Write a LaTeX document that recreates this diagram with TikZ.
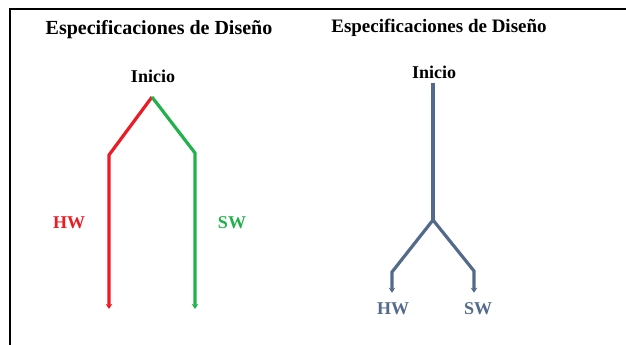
\documentclass[tikz,border=0pt]{standalone}
\usepackage{fontspec}
\setmainfont{Liberation Serif}
\usepackage{xcolor}
\usetikzlibrary{arrows.meta,positioning,calc}
\definecolor{hwred}{RGB}{237,28,36}
\definecolor{swgreen}{RGB}{34,177,76}
\definecolor{flowblue}{RGB}{84,106,139}
\begin{document}
\begin{tikzpicture}[x=1pt,y=-1pt,
    title/.style={font=\bfseries\fontsize{19}{22}\selectfont, inner sep=0pt},
    lbl/.style={font=\bfseries\fontsize{18}{21}\selectfont, inner sep=0pt},
    branch/.style={line width=3.2pt, line join=miter, -{Stealth[length=5pt,width=6.5pt]}}]
    \useasboundingbox (0,0) rectangle (626,345);

    % Frame
    \draw[line width=1.5pt] (10,345) -- (10,9) -- (626,9);

    % Left: separate paths
    \node[title, font=\bfseries\fontsize{20}{23}\selectfont] (titleL) at (159,30) {Especificaciones de Diseño};
    \node[lbl] (inicioL) at (153,76) {Inicio};
    \coordinate (apexL) at (152,97);
    \coordinate (hwbendL) at (109,155);
    \coordinate (hwendL) at (109,309);
    \coordinate (swbendL) at (195,153);
    \coordinate (swendL) at (195,309);
    \draw[branch, hwred] (apexL) -- (hwbendL) -- (hwendL);
    \draw[branch, swgreen] (apexL) -- (swbendL) -- (swendL);
    \node[lbl, text=hwred] (hwL) at (69,223) {HW};
    \node[lbl, text=swgreen] (swL) at (232,223) {SW};

    % Right: common trunk
    \node[title] (titleR) at (439,28) {Especificaciones de Diseño};
    \node[lbl] (inicioR) at (434,72) {Inicio};
    \coordinate (forkR) at (433,220);
    \coordinate (hwbendR) at (392,272);
    \coordinate (swbendR) at (474,271);
    \node[lbl, text=flowblue] (hwR) at (393,309) {HW};
    \node[lbl, text=flowblue] (swR) at (478,309) {SW};
    \draw[line width=3.2pt, flowblue] (inicioR.south -| forkR) ++(0,4) -- (forkR);
    \draw[branch, flowblue] (forkR) -- (hwbendR) -- ($(hwR.north -| hwbendR)+(0,-10)$);
    \draw[branch, flowblue] (forkR) -- (swbendR) -- ($(swR.north -| swbendR)+(0,-10)$);
\end{tikzpicture}
\end{document}
